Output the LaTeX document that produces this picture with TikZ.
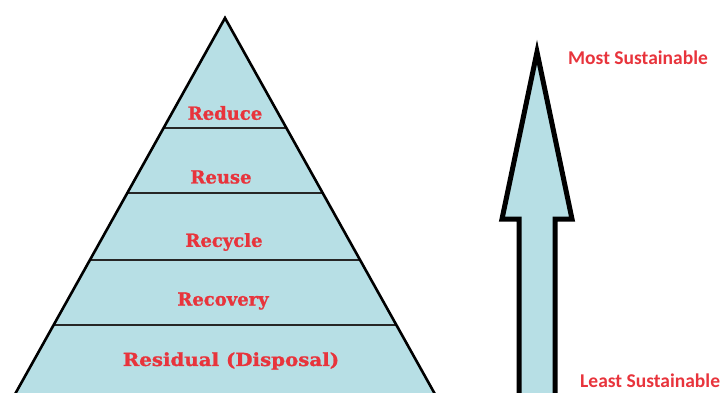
\documentclass[tikz,border=0pt]{standalone}
\usepackage{fontspec}
\newfontfamily\layerfont{DejaVu Serif Bold}[FakeBold=1.2]
\newfontfamily\notefont{Carlito Bold}
\definecolor{paleblue}{RGB}{183,223,229}
\definecolor{labelred}{RGB}{232,52,60}
\tikzset{
  layer/.style={font=\layerfont\fontsize{18}{20}\selectfont, text=labelred, inner sep=0pt},
  note/.style={font=\notefont\fontsize{19.5}{22}\selectfont, text=labelred, inner sep=0pt, anchor=west},
  divider/.style={line width=2pt, draw=black!85},
}
\begin{document}
\begin{tikzpicture}[x=1pt,y=-1pt]
\useasboundingbox (0,0) rectangle (724,392);
\begin{scope}
\clip (0,0) rectangle (724,392);
% pyramid body
\coordinate (apex) at (225,18);
\coordinate (bl) at (-5,430);
\coordinate (br) at (455,430);
\fill[paleblue] (apex) -- (bl) -- (br) -- cycle;
\begin{scope}
  \clip (apex) -- (bl) -- (br) -- cycle;
  \foreach \y in {128,193,260,325} \draw[divider] (0,\y) -- (460,\y);
\end{scope}
\draw[line width=2.6pt, line join=miter] (bl) -- (apex) -- (br);
% layer names
\node[layer] (reduce)   at (225,113) {Reduce};
\node[layer] (reuse)    at (221,177) {Reuse};
\node[layer] (recycle)  at (224,242) {Recycle};
\node[layer] (recovery) at (223,301) {Recovery};
\node[layer] (residual) at (231,361) {\scalebox{1.1}[1]{Residual (Disposal)}};
% upward arrow
\draw[line width=5pt, fill=paleblue, line join=miter, miter limit=10]
  (519,400) -- (519,219) -- (502,219) -- (537,52) -- (572,219) -- (555,219) -- (555,400);
\node[note] (most)  at (568,58)  {Most Sustainable};
\node[note] (least) at (580,381) {Least Sustainable};
\end{scope}
\end{tikzpicture}
\end{document}
